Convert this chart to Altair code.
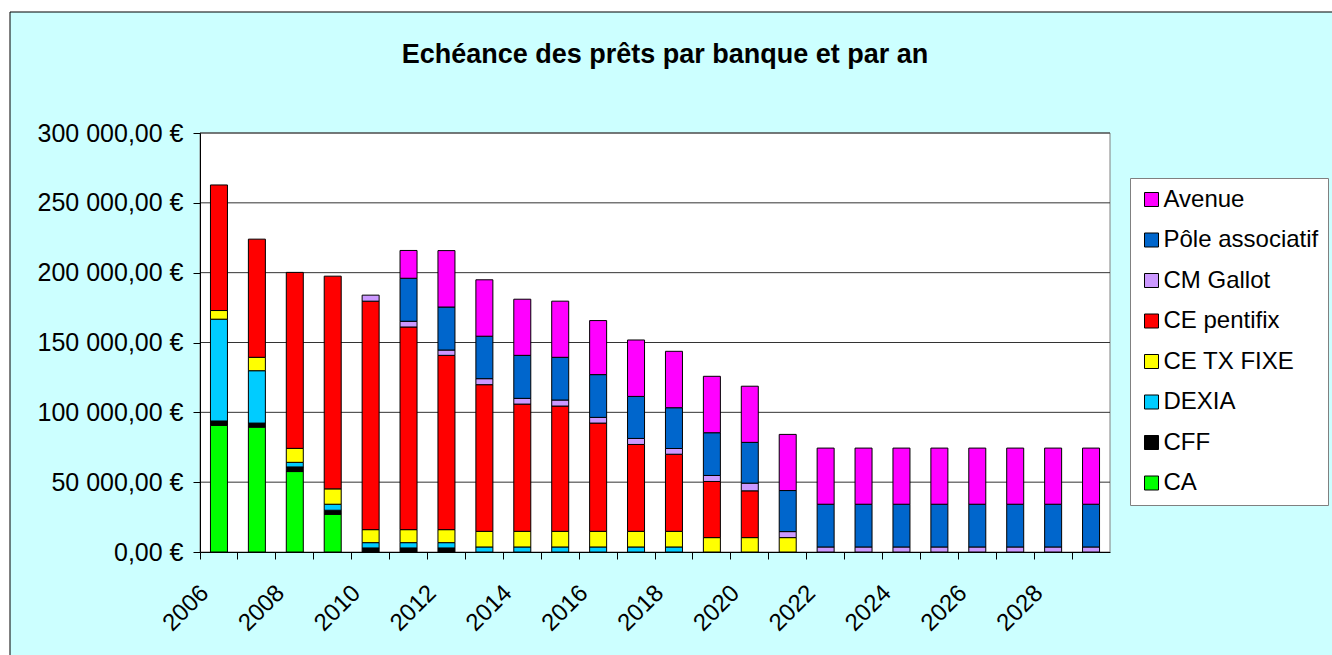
import altair as alt
import pandas as pd

# ---------------- data ----------------
years = list(range(2006, 2030))
series_names = ["CA", "CFF", "DEXIA", "CE TX FIXE", "CE pentifix", "CM Gallot", "Pôle associatif", "Avenue"]

ca = [90700, 89400, 57600, 27000] + [0] * 20
cff = [3100, 2900, 3300, 2900, 2900, 2900, 2900] + [0] * 17
dexia = [72900, 37500, 3300, 4300, 3800, 3800, 3800, 3600, 3600, 3600, 3600, 3600, 3600] + [0] * 11
ce_tx_fixe = [6200, 9600, 10000, 11000, 9300, 9300, 9300, 11200, 11200, 11200, 11200, 11200, 11200,
              10300, 10300, 10300] + [0] * 8
ce_pentifix = [89900, 84600, 126000, 152300, 163600, 145100, 124800, 105000, 91100, 89700, 77500,
               62200, 55200, 40200, 33500] + [0] * 9
cm_gallot = [0] * 4 + [4300, 4100, 3800, 4300, 4100, 4300, 4100, 4300, 4100, 4300, 5500, 4300] + [3600] * 8
pole_associatif = [0] * 5 + [30800, 30800, 30400, 30800, 30600, 30600, 30100, 29200, 30600, 29200,
                             29400] + [30600] * 8
avenue = [0] * 5 + [19900, 40400, 40400, 40200, 40200, 38700, 40400, 40400, 40400, 40200,
                    40200] + [40200] * 8

series_values = [ca, cff, dexia, ce_tx_fixe, ce_pentifix, cm_gallot, pole_associatif, avenue]

legend_order = ["Avenue", "Pôle associatif", "CM Gallot", "CE pentifix", "CE TX FIXE", "DEXIA", "CFF", "CA"]
legend_colors = ["#FF00FF", "#0066CC", "#CC99FF", "#FF0000", "#FFFF00", "#00CCFF", "#000000", "#00FF00"]

y_ticks = [0, 50000, 100000, 150000, 200000, 250000, 300000]
title_text = "Echéance des prêts par banque et par an"

# ---------------- build table ----------------
rows = []
for rank, (name, vals) in enumerate(zip(series_names, series_values)):
    for yr, v in zip(years, vals):
        rows.append({"annee": yr, "banque": name, "montant": v, "rang": rank})
df = pd.DataFrame(rows)

FONT = "Liberation Sans"
W, H = 910, 419

# background panel (decor)
frame = alt.Chart(pd.DataFrame({"k": [0]})).mark_rect(
    fill="#CCFFFF", stroke="black", strokeWidth=1
).encode(x=alt.value(-190), x2=alt.value(W + 260), y=alt.value(-121), y2=alt.value(H + 140))

plot_bg = alt.Chart(pd.DataFrame({"k": [0]})).mark_rect(
    fill="white", stroke="#808080", strokeWidth=1
).encode(x=alt.value(0), x2=alt.value(W), y=alt.value(0), y2=alt.value(H))

yscale = alt.Scale(domain=[0, 300000], nice=False)

y_label_expr = ("replace(replace(format(datum.value, ',.2f'), regexp(',', 'g'), ' '), '.', ',') + ' €'")

y_axis = alt.Axis(title=None, values=y_ticks, labelExpr=y_label_expr, tickSize=7,
                  labelPadding=10, tickColor="black", domainColor="black",
                  labelColor="black", labelFont=FONT, labelFontSize=25,
                  labelOverlap=False, grid=False, zindex=1)

grid = alt.Chart(pd.DataFrame({"montant": y_ticks[1:]})).mark_rule(color="#333333", strokeWidth=1).encode(
    y=alt.Y("montant:Q", scale=yscale, axis=y_axis), x=alt.value(0), x2=alt.value(W)
)

title = alt.Chart(pd.DataFrame({"t": [title_text]})).mark_text(
    font=FONT, fontSize=27, fontWeight="bold", color="black", align="center", baseline="middle"
).encode(text="t:N", x=alt.value(W / 2 + 10), y=alt.value(55 - 133))

bars = alt.Chart(df).transform_filter("datum.montant > 0").mark_bar(
    size=17, stroke="black", strokeWidth=1
).encode(
    x=alt.X("annee:O", scale=alt.Scale(paddingInner=0, paddingOuter=0),
            axis=alt.Axis(title=None, bandPosition=0, labelAngle=-45, labelAlign="right",
                          labelBaseline="middle", labelOffset=-14, labelPadding=30, tickSize=7,
                          tickColor="black", domainColor="black", labelColor="black",
                          labelFont=FONT, labelFontSize=24, labelOverlap=False, grid=False,
                          labelExpr="datum.value % 2 == 0 ? datum.label : ''", zindex=1)),
    y=alt.Y("montant:Q", stack="zero", scale=yscale, axis=y_axis),
    color=alt.Color("banque:N", scale=alt.Scale(domain=legend_order, range=legend_colors),
                    legend=alt.Legend(title=None, orient="none", legendX=930, legendY=45,
                                      symbolType="square", symbolSize=196,
                                      symbolStrokeColor="black", symbolStrokeWidth=1,
                                      labelFont=FONT, labelFontSize=24, labelColor="black",
                                      labelLimit=400, rowPadding=16.5, padding=9.5,
                                      labelOffset=0, fillColor="white", strokeColor="#808080",
                                      zindex=1)),
    order=alt.Order("rang:Q", sort="ascending"),
)

chart = alt.layer(frame, plot_bg, grid, bars, title).properties(
    width=W, height=H,
    autosize=alt.AutoSizeParams(type="none"),
    padding={"left": 200, "top": 133, "right": 222, "bottom": 103},
    background="white",
).configure_view(stroke=None)

chart.save("out.html", embed_options={"renderer": "svg", "actions": False})
